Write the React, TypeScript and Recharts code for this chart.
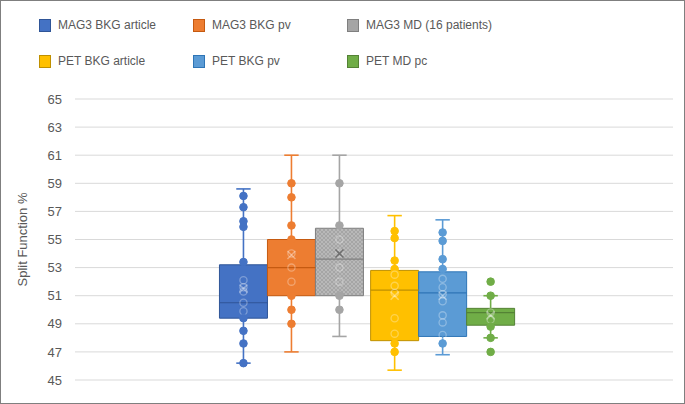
import React from 'react';
import {
  ComposedChart, XAxis, YAxis, CartesianGrid, ReferenceArea, ReferenceLine, Scatter,
} from 'recharts';

const SERIES = [
  'MAG3 BKG article',
  'MAG3 BKG pv',
  'MAG3 MD (16 patients)',
  'PET BKG article',
  'PET BKG pv',
  'PET MD pc',
];
const MINS = [46.2, 47, 48.1, 45.7, 46.8, 48];
const Q1 = [49.4, 51, 51, 47.8, 48.1, 48.9];
const MEDIANS = [50.5, 53, 53.6, 51.4, 51.2, 49.8];
const Q3 = [53.2, 55, 55.8, 52.8, 52.7, 50.1];
const MAXS = [58.6, 61, 61, 56.7, 56.4, 51];
const MEANS = [51.5, 53.9, 54, 51.0, 51.0, 49.6];
const POINTS = [
  [58.1, 57.3, 56.3, 55.9, 53.4, 52.1, 51.6, 51.3, 50.5, 49.9, 49.4, 48.5, 47.6, 46.2],
  [59, 58, 56, 55, 54, 53, 52, 51, 50, 49],
  [59, 56, 55, 54, 53, 52, 51, 50],
  [55.6, 55.1, 53.5, 52.9, 52.5, 51.7, 51.2, 49.4, 48.3, 47.6, 47.0],
  [55.5, 54.9, 53.6, 52.9, 52.2, 51.6, 51.1, 50.6, 49.6, 49.1, 48.2, 47.6],
  [52, 51, 49.8, 49.3, 48.8, 48, 47],
];
const Y_TICKS = [45, 47, 49, 51, 53, 55, 57, 59, 61, 63, 65];

// Office palette, fill and a darker edge
const COLORS = ['#4472C4', '#ED7D31', '#A5A5A5', '#FFC000', '#5B9BD5', '#70AD47'];
const EDGES = ['#2F5597', '#C55A11', '#7F7F7F', '#BF9000', '#2E75B6', '#548235'];

const GROUP_GAP = 0.15;
const HALF = 0.5;
const CAP = 0.15;
const POS = SERIES.map((_, i) => i + (i >= 3 ? GROUP_GAP : 0));
const FONT = "'Liberation Sans', Arial, sans-serif";
const TEXT = '#595959';

const fillFor = (i: number) => (i === 2 ? 'url(#grayHatch)' : COLORS[i]);

const PointShape = (props: any) => {
  const { cx, cy, payload } = props;
  if (cx == null || cy == null) return null;
  const i = payload.s;
  if (payload.inside) {
    return <circle cx={cx} cy={cy} r={3.6} fill="none" stroke="rgba(255,255,255,0.3)" strokeWidth={1.3} />;
  }
  return <circle cx={cx} cy={cy} r={3.8} fill={COLORS[i]} stroke={COLORS[i]} strokeWidth={1} />;
};

const MeanShape = (props: any) => {
  const { cx, cy, payload } = props;
  if (cx == null || cy == null) return null;
  const c = payload.s === 2 ? '#6f6f6f' : 'rgba(255,255,255,0.35)';
  const d = 4;
  return (
    <g stroke={c} strokeWidth={1.6}>
      <line x1={cx - d} y1={cy - d} x2={cx + d} y2={cy + d} />
      <line x1={cx - d} y1={cy + d} x2={cx + d} y2={cy - d} />
    </g>
  );
};

const Legend = () => (
  <div style={{ position: 'absolute', left: 0, top: 0, width: 685, height: 80, fontFamily: FONT, fontSize: 12, color: TEXT }}>
    {SERIES.map((name, i) => {
      const col = i % 3;
      const row = Math.floor(i / 3);
      return (
        <div
          key={name}
          style={{ position: 'absolute', left: 39 + col * 154, top: 18 + row * 36, display: 'flex', alignItems: 'center', whiteSpace: 'nowrap' }}
        >
          <span
            style={{
              display: 'inline-block', width: 10, height: 11, marginRight: 7,
              background: COLORS[i], border: `1px solid ${EDGES[i]}`,
            }}
          />
          {name}
        </div>
      );
    })}
  </div>
);

export default function App() {
  const pointData = POINTS.map((vals, s) =>
    vals.map((v) => ({ x: POS[s], y: v, s, inside: v > Q1[s] && v < Q3[s] })),
  );
  const meanData = MEANS.map((v, s) => ({ x: POS[s], y: v, s }));

  return (
    <div style={{ position: 'absolute', left: 0, top: 0, width: 685, height: 404, background: '#fff' }}>
      <ComposedChart width={685} height={404} margin={{ top: 99, right: 12, bottom: 24, left: 0 }}>
        <defs>
          <pattern id="grayHatch" width="4" height="4" patternUnits="userSpaceOnUse">
            <rect width="4" height="4" fill="#A5A5A5" />
            <path d="M0 0 L4 4 M4 0 L0 4" stroke="#BDBDBD" strokeWidth="0.8" />
          </pattern>
        </defs>
        <CartesianGrid horizontal vertical={false} stroke="#D9D9D9" />
        <XAxis type="number" dataKey="x" domain={[-3.51, 8.95]} hide allowDataOverflow />
        <YAxis
          type="number"
          dataKey="y"
          domain={[45, 65]}
          ticks={Y_TICKS}
          width={75}
          axisLine={false}
          tickLine={false}
          tickSize={0}
          tickMargin={13}
          tick={{ fill: TEXT, fontSize: 13, fontFamily: FONT }}
          label={(p: any) => {
            const vb = p.viewBox || { x: 0, y: 99, height: 281 };
            const cy = vb.y + vb.height / 2;
            return (
              <text x={22} y={cy} transform={`rotate(-90 22 ${cy})`} textAnchor="middle" dominantBaseline="central" fill={TEXT} fontSize={13} fontFamily={FONT}>
                Split Function %
              </text>
            );
          }}
        />

        {/* whiskers */}
        {SERIES.map((name, i) => (
          <ReferenceLine key={`wu-${name}`} segment={[{ x: POS[i], y: Q3[i] }, { x: POS[i], y: MAXS[i] }]} stroke={COLORS[i]} strokeWidth={1.6} />
        ))}
        {SERIES.map((name, i) => (
          <ReferenceLine key={`wl-${name}`} segment={[{ x: POS[i], y: MINS[i] }, { x: POS[i], y: Q1[i] }]} stroke={COLORS[i]} strokeWidth={1.6} />
        ))}
        {SERIES.map((name, i) => (
          <ReferenceLine key={`cu-${name}`} segment={[{ x: POS[i] - CAP, y: MAXS[i] }, { x: POS[i] + CAP, y: MAXS[i] }]} stroke={COLORS[i]} strokeWidth={1.6} />
        ))}
        {SERIES.map((name, i) => (
          <ReferenceLine key={`cl-${name}`} segment={[{ x: POS[i] - CAP, y: MINS[i] }, { x: POS[i] + CAP, y: MINS[i] }]} stroke={COLORS[i]} strokeWidth={1.6} />
        ))}

        {/* boxes */}
        {SERIES.map((name, i) => (
          <ReferenceArea
            key={`box-${name}`}
            x1={POS[i] - HALF}
            x2={POS[i] + HALF}
            y1={Q1[i]}
            y2={Q3[i]}
            fill={fillFor(i)}
            fillOpacity={1}
            stroke={EDGES[i]}
            strokeWidth={1}
          />
        ))}
        {SERIES.map((name, i) => (
          <ReferenceLine
            key={`med-${name}`}
            segment={[{ x: POS[i] - HALF, y: MEDIANS[i] }, { x: POS[i] + HALF, y: MEDIANS[i] }]}
            stroke={EDGES[i]}
            strokeWidth={1.2}
          />
        ))}

        {pointData.map((d, s) => (
          <Scatter key={`pts-${SERIES[s]}`} data={d} shape={PointShape} isAnimationActive={false} />
        ))}
        <Scatter data={meanData} shape={MeanShape} isAnimationActive={false} />
      </ComposedChart>
      <Legend />
      <div style={{ position: 'absolute', left: 0, top: 0, width: 685, height: 404, boxSizing: 'border-box', border: '1px solid #7F7F7F', pointerEvents: 'none' }} />
    </div>
  );
}
